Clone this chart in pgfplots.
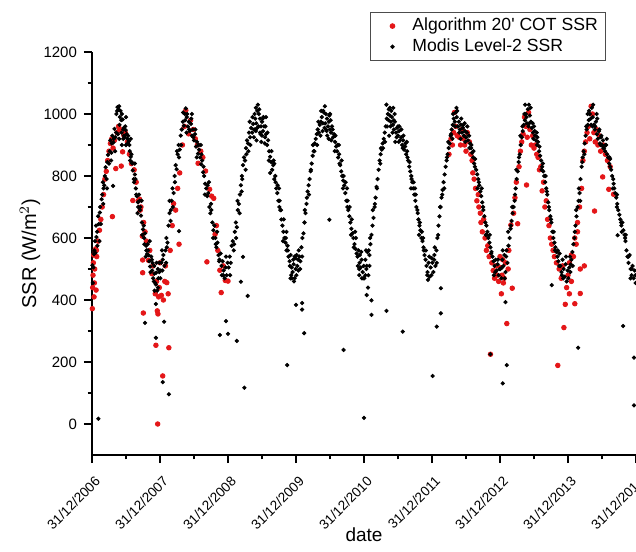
\documentclass[border=0pt]{standalone}
\usepackage{pgfplots}
\pgfplotsset{compat=1.18}
\usepackage{fontspec}
\setmainfont{Liberation Sans}
\definecolor{algred}{RGB}{228,22,24}
\begin{document}
\begin{tikzpicture}
\begin{axis}[
  scale only axis, width=272pt, height=201.5pt,
  xmin=0, xmax=8, ymin=-100, ymax=1200,
  axis lines=left, axis line style={-, line width=0.6pt},
  tick align=outside, tick style={black, line width=0.6pt},
  major tick length=4pt, minor tick length=2.2pt,
  xtick={0,1,2,3,4,5,6,7,8}, minor x tick num=1,
  xticklabels={31/12/2006,31/12/2007,31/12/2008,31/12/2009,31/12/2010,31/12/2011,31/12/2012,31/12/2013,31/12/2014},
  xticklabel style={rotate=45, anchor=north east, inner sep=1.5pt, xshift=-2pt, yshift=-3.5pt, font=\fontsize{6.8}{8}\selectfont},
  ytick={0,200,400,600,800,1000,1200}, minor y tick num=1,
  yticklabel style={font=\fontsize{7.5}{9}\selectfont},
  /pgf/number format/assume math mode=true,
  /pgf/number format/1000 sep={},
  xlabel={date}, ylabel={SSR (W/m$^{2}$)},
  xlabel style={font=\fontsize{9.5}{11}\selectfont, at={(axis description cs:0.5,-0.198)}, anchor=center},
  ylabel style={font=\fontsize{10}{12}\selectfont, at={(axis description cs:-0.114,0.5)}, anchor=center},
  legend style={at={(axis description cs:0.511,1.10)}, anchor=north west, draw=black!70, line width=0.5pt,
    font=\fontsize{8.8}{10}\selectfont, inner xsep=2pt, inner ysep=1pt, row sep=-1.5pt, cells={anchor=west}},
  legend cell align=left,
  legend image code/.code={\path[draw=none, fill=none] (-9pt,0pt) -- (8pt,0pt); \draw[#1, only marks] plot coordinates {(0pt,0pt)};},
]
% Algorithm 20' COT SSR
\addplot[only marks, mark=*, mark size=1.15pt, color=algred] coordinates {
(0.005,372) (0.01,440) (0.015,480) (0.02,520) (0.025,545) (0.03,410) (0.035,455) (0.04,500) (0.045,560) (0.055,565)
(0.06,432) (0.065,560) (0.07,540) (0.09,590) (0.11,625) (0.13,660) (0.15,700) (0.17,740) (0.19,790) (0.21,815)
(0.23,850) (0.25,880) (0.27,905) (0.29,920) (0.30,669) (0.31,890) (0.33,915) (0.35,824) (0.37,940) (0.39,960)
(0.41,950) (0.43,832) (0.45,878) (0.47,930) (0.49,940) (0.52,910) (0.55,870) (0.58,840) (0.60,721) (0.62,820)
(0.65,780) (0.68,720) (0.70,725) (0.71,690) (0.72,700) (0.74,606) (0.745,529) (0.745,488) (0.755,358) (0.76,650)
(0.78,620) (0.80,590) (0.83,528) (0.85,560) (0.88,485) (0.90,510) (0.93,420) (0.94,254) (0.95,460) (0.96,365)
(0.966,0) (0.97,355) (0.98,410) (0.99,440)
(1.00,520) (1.02,415) (1.04,155) (1.05,400) (1.07,460) (1.08,510) (1.10,456) (1.12,420) (1.13,246) (1.15,560)
(1.18,640) (1.20,711) (1.23,690) (1.26,760) (1.28,580) (1.29,810) (1.33,900) (1.36,960) (1.38,1012) (1.42,936)
(1.45,980) (1.49,950) (1.52,920) (1.55,900) (1.56,841) (1.60,880) (1.63,860) (1.67,816) (1.69,523) (1.73,757)
(1.76,735) (1.79,728) (1.81,612) (1.83,640) (1.85,560) (1.88,496) (1.90,424) (1.93,510) (1.96,463) (2.00,461)
(5.25,870) (5.28,920) (5.30,900) (5.32,940) (5.33,1005) (5.35,960) (5.37,930) (5.40,925) (5.42,900) (5.44,950)
(5.46,920) (5.48,900) (5.50,880) (5.52,940) (5.55,910) (5.57,870) (5.59,850) (5.60,810) (5.62,790) (5.64,760)
(5.66,720) (5.68,740) (5.69,700) (5.71,680) (5.72,650) (5.74,620) (5.76,660) (5.78,600) (5.80,560) (5.82,575)
(5.84,540) (5.86,225) (5.88,520) (5.90,495) (5.92,470) (5.94,510) (5.96,480) (5.98,460) (6.00,505) (6.02,420)
(6.04,530) (6.06,470) (6.10,324) (6.12,500) (6.16,642) (6.18,438)
(6.00,540) (6.03,480) (6.05,455) (6.08,520) (6.13,560) (6.20,680) (6.22,730) (6.24,780) (6.26,646) (6.28,830)
(6.30,880) (6.32,910) (6.34,935) (6.36,990) (6.38,960) (6.39,771) (6.40,925) (6.42,1005) (6.44,950) (6.46,900)
(6.48,930) (6.50,890) (6.52,900) (6.54,870) (6.56,860) (6.58,820) (6.60,830) (6.62,752) (6.64,780) (6.66,700)
(6.68,720) (6.70,660) (6.72,640) (6.74,600) (6.76,580) (6.78,560) (6.80,540) (6.83,520) (6.85,189) (6.87,500)
(6.90,470) (6.92,510) (6.94,311) (6.96,386) (6.98,440) (7.00,480) (7.02,420) (7.05,460) (7.08,540) (7.10,388)
(7.12,580) (7.14,620) (7.18,421) (7.18,500) (7.24,510)
(7.02,520) (7.05,545) (7.10,600) (7.14,650) (7.17,700) (7.20,760) (7.22,850) (7.24,880) (7.26,910) (7.28,940)
(7.30,960) (7.32,920) (7.34,1025) (7.36,1000) (7.38,940) (7.39,687) (7.40,910) (7.42,950) (7.44,900) (7.46,930)
(7.48,880) (7.51,797) (7.52,900) (7.55,870) (7.58,850) (7.60,757) (7.62,830) (7.67,741)
};
\addlegendentry{Algorithm 20\textquotesingle{} COT SSR}
% Modis Level-2 SSR
\addplot[only marks, mark=*, mark size=0.85pt, color=black] coordinates {
(0.005,512) (0.02,505) (0.035,560) (0.05,552) (0.065,603) (0.08,575) (0.10,645) (0.115,682) (0.13,645) (0.15,740)
(0.165,710) (0.18,770) (0.20,828) (0.215,790) (0.235,868) (0.25,840) (0.27,915) (0.285,875) (0.30,930) (0.315,908)
(0.33,952) (0.345,925) (0.36,1000) (0.375,1022) (0.39,1015) (0.405,965) (0.42,1010) (0.435,940) (0.45,982) (0.465,955)
(0.48,925) (0.495,948) (0.51,935) (0.525,905) (0.54,912) (0.555,880) (0.57,862) (0.585,845) (0.60,818) (0.615,790)
(0.63,805) (0.645,760) (0.66,735) (0.675,715) (0.69,740) (0.705,690) (0.72,672) (0.735,650) (0.75,628) (0.765,600)
(0.78,615) (0.795,575) (0.81,548) (0.825,560) (0.84,525) (0.855,508) (0.87,540) (0.885,495) (0.90,470) (0.915,510)
(0.93,455) (0.945,488) (0.96,430) (0.975,470) (0.99,520)
(0.012,455) (0.028,548) (0.045,590) (0.075,620) (0.09,670) (0.12,700) (0.14,725) (0.17,760) (0.19,800) (0.225,845)
(0.26,880) (0.29,905) (0.32,920) (0.355,940) (0.38,935) (0.40,920) (0.41,990) (0.44,1000) (0.46,920) (0.47,930)
(0.50,900) (0.53,930) (0.56,850) (0.59,840) (0.62,780) (0.65,740) (0.68,700) (0.71,700) (0.74,610) (0.77,580)
(0.80,560) (0.83,545) (0.86,490) (0.89,520) (0.92,485) (0.95,520) (0.97,500)
(0.37,1010) (0.40,1025) (0.43,980) (0.46,950) (0.49,960) (0.52,920) (0.55,900) (0.58,870) (0.64,790) (0.70,720)
(0.76,640) (0.82,580) (0.88,530) (0.91,460) (0.94,450) (0.97,440) (0.99,490)
(0.06,640) (0.11,590) (0.16,780) (0.22,760) (0.28,850) (0.34,880) (0.44,900) (0.50,990) (0.57,920) (0.63,840)
(0.67,680) (0.73,720) (0.79,540) (0.85,590) (0.92,430)
(0.093,17) (1.04,135) (1.13,96) (0.94,278) (0.78,326) (1.06,330) (0.94,387) (0.31,768)
(1.005,470) (1.02,520) (1.035,495) (1.05,545) (1.065,510) (1.08,560) (1.095,600) (1.11,585) (1.125,640) (1.14,680)
(1.155,655) (1.17,720) (1.185,760) (1.20,745) (1.215,800) (1.23,835) (1.245,822) (1.26,870) (1.275,900) (1.29,885)
(1.305,930) (1.32,950) (1.335,975) (1.35,962) (1.365,1000) (1.38,1018) (1.395,990) (1.41,960) (1.425,975) (1.44,945)
(1.455,968) (1.47,930) (1.485,950) (1.50,915) (1.515,935) (1.53,895) (1.545,910) (1.56,872) (1.575,885) (1.59,860)
(1.605,838) (1.62,850) (1.635,812) (1.65,800) (1.665,775) (1.68,760) (1.695,735) (1.71,745) (1.725,700) (1.74,680)
(1.755,690) (1.77,650) (1.785,625) (1.80,640) (1.815,600) (1.83,570) (1.845,585) (1.86,545) (1.875,530) (1.89,550)
(1.905,510) (1.92,525) (1.935,495) (1.95,470) (1.965,505) (1.98,480) (1.995,520)
(1.34,1005) (1.37,980) (1.40,1000) (1.43,950) (1.46,985) (1.49,925) (1.52,950) (1.57,900) (1.61,870) (1.64,830)
(1.70,770) (1.75,710) (1.82,580) (1.87,525) (1.93,480) (1.01,495) (1.04,530) (1.10,570) (1.16,690) (1.22,780) (1.28,860)
(1.03,560) (1.09,520) (1.14,720) (1.19,700) (1.25,880) (1.31,900) (1.39,940) (1.47,1000) (1.54,860) (1.60,900)
(1.66,740) (1.72,780) (1.78,600) (1.84,620) (1.91,480) (1.97,540)
(1.28,622) (1.88,287) (1.97,332) (2.0,291)
(2.01,505) (2.025,540) (2.04,520) (2.055,575) (2.07,590) (2.085,560) (2.10,620) (2.115,650) (2.13,635) (2.145,690)
(2.16,710) (2.175,740) (2.19,770) (2.205,800) (2.22,835) (2.235,860) (2.25,850) (2.265,890) (2.28,915) (2.295,905)
(2.31,940) (2.325,925) (2.34,955) (2.355,940) (2.37,968) (2.385,950) (2.40,985) (2.415,970) (2.43,1010) (2.44,1030)
(2.455,1000) (2.47,985) (2.485,960) (2.50,975) (2.515,945) (2.53,960) (2.545,925) (2.56,935) (2.575,900) (2.59,915)
(2.605,880) (2.62,862) (2.635,845) (2.65,820) (2.665,835) (2.68,790) (2.695,800) (2.71,760) (2.725,745) (2.74,720)
(2.755,700) (2.77,690) (2.785,660) (2.80,640) (2.815,620) (2.83,600) (2.845,585) (2.86,560) (2.875,575) (2.89,540)
(2.905,525) (2.92,545) (2.935,505) (2.95,490) (2.965,515) (2.98,470) (2.995,500)
(2.38,925) (2.41,945) (2.42,915) (2.45,960) (2.48,935) (2.52,990) (2.55,960) (2.91,510) (2.93,480) (2.96,530) (2.97,460)
(2.36,990) (2.39,1000) (2.40,950) (2.43,955) (2.46,1015) (2.47,940) (2.50,930) (2.51,985) (2.54,905) (2.58,940)
(2.60,850) (2.64,880) (2.67,850) (2.70,780) (2.73,770) (2.76,720) (2.78,690) (2.82,660) (2.85,600) (2.88,560)
(2.94,470) (2.99,535) (2.33,900) (2.30,880) (2.27,870) (2.21,790) (2.17,680) (2.12,600)
(2.03,480) (2.09,580) (2.14,720) (2.20,750) (2.26,820) (2.32,975) (2.41,1020) (2.49,910) (2.56,990) (2.62,810)
(2.68,840) (2.75,760) (2.81,590) (2.86,620) (2.92,470) (2.98,540)
(2.22,539) (2.19,459) (2.29,413) (2.13,268) (2.24,117) (2.87,190) (3.0,384) (3.09,390) (3.09,369) (3.12,293)
(3.49,659) (3.70,239) (4.0,20)
(3.005,480) (3.02,510) (3.035,495) (3.05,540) (3.065,525) (3.08,570) (3.095,600) (3.11,615) (3.125,650) (3.14,680)
(3.155,710) (3.17,750) (3.185,770) (3.20,790) (3.215,815) (3.23,840) (3.245,865) (3.26,880) (3.275,905) (3.29,920)
(3.305,935) (3.32,950) (3.335,940) (3.35,965) (3.365,975) (3.38,990) (3.395,970) (3.41,1005) (3.425,1025) (3.44,1000)
(3.455,985) (3.47,960) (3.485,975) (3.50,950) (3.515,940) (3.53,960) (3.545,925) (3.56,935) (3.575,910) (3.59,895)
(3.605,880) (3.62,860) (3.635,870) (3.65,835) (3.665,815) (3.68,800) (3.695,785) (3.71,770) (3.725,745) (3.74,720)
(3.755,700) (3.77,690) (3.785,670) (3.80,650) (3.815,630) (3.83,615) (3.845,600) (3.86,580) (3.875,565) (3.89,550)
(3.905,540) (3.92,560) (3.935,520) (3.95,505) (3.965,530) (3.98,490) (3.995,510)
(3.39,945) (3.42,955) (3.46,930) (3.49,995) (3.52,915) (3.93,480) (3.96,555) (3.97,470)
(3.03,530) (3.06,500) (3.01,545) (3.33,975) (3.36,930) (3.40,1010) (3.43,970) (3.45,945) (3.48,920) (3.51,980)
(3.54,950) (3.58,930) (3.61,900) (3.64,840) (3.67,850) (3.70,800) (3.73,780) (3.76,720) (3.79,700) (3.82,660)
(3.85,570) (3.88,600) (3.91,510) (3.94,545) (3.99,470) (3.27,880) (3.22,820) (3.16,730)
(3.04,560) (3.09,540) (3.13,690) (3.19,740) (3.25,900) (3.31,900) (3.37,1010) (3.44,950) (3.50,1000) (3.57,880)
(3.63,900) (3.69,760) (3.75,760) (3.81,610) (3.87,620) (3.93,500)
(4.005,470) (4.02,530) (4.035,500) (4.05,555) (4.065,480) (4.08,545) (4.095,580) (4.11,610) (4.125,640) (4.14,665)
(4.155,700) (4.17,730) (4.185,765) (4.20,790) (4.215,820) (4.23,850) (4.245,870) (4.26,885) (4.275,905) (4.29,920)
(4.305,940) (4.32,960) (4.335,985) (4.35,1000) (4.365,1015) (4.38,995) (4.395,975) (4.41,990) (4.425,965) (4.44,950)
(4.455,975) (4.47,940) (4.485,955) (4.50,930) (4.515,945) (4.53,915) (4.545,925) (4.56,900) (4.575,915) (4.59,885)
(4.605,895) (4.62,870) (4.635,880) (4.65,850) (4.665,830) (4.68,815) (4.695,800) (4.71,780) (4.725,760) (4.74,740)
(4.755,720) (4.77,700) (4.785,690) (4.80,660) (4.815,640) (4.83,625) (4.845,600) (4.86,590) (4.875,570) (4.89,545)
(4.905,530) (4.92,510) (4.935,490) (4.95,520) (4.965,475) (4.98,505) (4.995,535)
(4.34,960) (4.37,930) (4.40,1010) (4.43,1020) (4.46,910) (4.52,960) (4.06,440) (4.04,510) (4.07,560) (4.96,540) (4.94,465)
(4.33,1030) (4.36,980) (4.39,960) (4.42,940) (4.45,1000) (4.48,925) (4.51,910) (4.55,950) (4.58,930) (4.61,905)
(4.64,860) (4.67,845) (4.70,790) (4.73,780) (4.76,740) (4.79,680) (4.82,650) (4.85,620) (4.88,560) (4.91,560)
(4.99,480) (4.02,480) (4.09,600) (4.16,710) (4.24,840) (4.28,890)
(4.03,560) (4.08,510) (4.13,690) (4.19,760) (4.25,890) (4.31,910) (4.38,1020) (4.44,980) (4.50,960) (4.57,890)
(4.63,910) (4.69,760) (4.75,760) (4.81,610) (4.87,600) (4.93,480)
(4.11,399) (4.11,352) (4.04,416) (4.33,365) (4.57,298) (5.01,155) (5.07,314) (5.13,357) (5.13,438)
(5.005,520) (5.02,490) (5.035,545) (5.05,510) (5.065,560) (5.08,600) (5.095,640) (5.11,670) (5.125,700) (5.14,730)
(5.155,755) (5.17,780) (5.185,805) (5.20,830) (5.215,850) (5.23,870) (5.245,890) (5.26,905) (5.275,930) (5.29,950)
(5.305,965) (5.32,985) (5.335,975) (5.35,1005) (5.365,990) (5.38,960) (5.395,975) (5.41,950) (5.425,965) (5.44,940)
(5.455,955) (5.47,930) (5.485,945) (5.50,925) (5.515,940) (5.53,915) (5.545,930) (5.56,905) (5.575,890) (5.59,875)
(5.605,860) (5.62,840) (5.635,855) (5.65,820) (5.665,805) (5.68,790) (5.695,770) (5.71,750) (5.725,735) (5.74,715)
(5.755,690) (5.77,670) (5.785,650) (5.80,640) (5.815,620) (5.83,600) (5.845,585) (5.86,570) (5.875,555) (5.89,540)
(5.905,525) (5.92,510) (5.935,530) (5.95,495) (5.965,515) (5.98,480) (5.995,500)
(5.31,1000) (5.34,960) (5.37,1010) (5.40,940) (5.43,985) (5.46,965) (5.49,910) (5.52,960) (5.58,900) (5.63,830)
(5.69,780) (5.75,700) (5.81,610) (5.87,550) (5.93,490) (5.97,530) (5.03,530) (5.09,610) (5.15,740) (5.22,860) (5.28,935)
(5.04,570) (5.07,520) (5.12,700) (5.18,760) (5.24,910) (5.30,920) (5.36,1020) (5.42,920) (5.48,970) (5.55,890)
(5.61,880) (5.67,760) (5.73,760) (5.79,610) (5.85,610) (5.91,480)
(5.86,225) (6.04,131) (6.10,190) (6.08,393)
(6.005,500) (6.02,470) (6.035,530) (6.05,510) (6.065,545) (6.08,490) (6.095,560) (6.11,520) (6.125,575) (6.14,600)
(6.155,630) (6.17,655) (6.185,680) (6.20,700) (6.215,720) (6.23,760) (6.245,790) (6.26,815) (6.275,845) (6.29,870)
(6.305,900) (6.32,925) (6.335,945) (6.35,965) (6.365,980) (6.38,1000) (6.395,970) (6.41,1015) (6.425,1030) (6.44,995)
(6.455,975) (6.47,955) (6.485,940) (6.50,960) (6.515,930) (6.53,915) (6.545,900) (6.56,910) (6.575,880) (6.59,865)
(6.605,850) (6.62,830) (6.635,815) (6.65,800) (6.665,780) (6.68,760) (6.695,740) (6.71,715) (6.725,690) (6.74,670)
(6.755,650) (6.77,620) (6.785,600) (6.80,585) (6.815,570) (6.83,555) (6.845,540) (6.86,525) (6.875,550) (6.89,510)
(6.905,490) (6.92,530) (6.935,500) (6.95,475) (6.965,515) (6.98,460) (6.995,495)
(6.33,960) (6.36,1000) (6.39,990) (6.42,960) (6.45,1020) (6.48,970) (6.51,945) (6.55,925) (6.58,895) (6.63,840)
(6.69,750) (6.75,660) (6.81,560) (6.87,510) (6.93,470) (6.97,540) (6.03,505) (6.09,540) (6.16,640) (6.22,740) (6.28,860)
(6.04,560) (6.07,470) (6.12,620) (6.18,700) (6.24,820) (6.30,930) (6.37,1030) (6.43,970) (6.49,920) (6.54,940)
(6.61,820) (6.67,800) (6.72,700) (6.79,620) (6.85,560) (6.91,480)
(6.76,448) (7.15,246)
(7.005,470) (7.02,505) (7.035,490) (7.05,530) (7.065,555) (7.08,580) (7.095,600) (7.11,640) (7.125,670) (7.14,700)
(7.155,720) (7.17,745) (7.185,790) (7.20,830) (7.215,860) (7.23,880) (7.245,905) (7.26,930) (7.275,950) (7.29,965)
(7.305,980) (7.32,1000) (7.335,985) (7.35,1020) (7.365,990) (7.38,965) (7.395,950) (7.41,975) (7.425,935) (7.44,920)
(7.455,945) (7.47,905) (7.485,925) (7.50,900) (7.515,915) (7.53,890) (7.545,880) (7.56,900) (7.575,870) (7.59,860)
(7.605,840) (7.62,855) (7.635,820) (7.65,800) (7.665,790) (7.68,760) (7.695,745) (7.71,730) (7.725,710) (7.74,690)
(7.755,675) (7.77,660) (7.785,640) (7.80,650) (7.815,625) (7.83,610) (7.845,590) (7.86,560) (7.875,540) (7.89,520)
(7.905,545) (7.92,500) (7.935,480) (7.95,510) (7.965,470) (7.98,495) (7.995,455)
(7.31,1010) (7.34,965) (7.37,1030) (7.40,960) (7.43,985) (7.46,950) (7.49,930) (7.52,890) (7.57,920) (7.62,830)
(7.67,775) (7.72,700) (7.78,650) (7.84,600) (7.89,540) (7.94,500) (7.99,480) (7.04,515) (7.10,620) (7.16,760) (7.21,845) (7.27,960)
(7.03,540) (7.07,510) (7.12,690) (7.18,720) (7.24,870) (7.29,1000) (7.36,960) (7.42,1000) (7.48,900) (7.55,900)
(7.61,860) (7.66,760) (7.72,740) (7.79,620) (7.85,610) (7.92,470)
(7.81,316) (7.97,214) (7.97,60) (7.73,609)
};
\addlegendentry{Modis Level-2 SSR}
\end{axis}
\pgfresetboundingbox
\path[use as bounding box] (-46pt,-48pt) rectangle (272pt,227.5pt);
\end{tikzpicture}
\end{document}
